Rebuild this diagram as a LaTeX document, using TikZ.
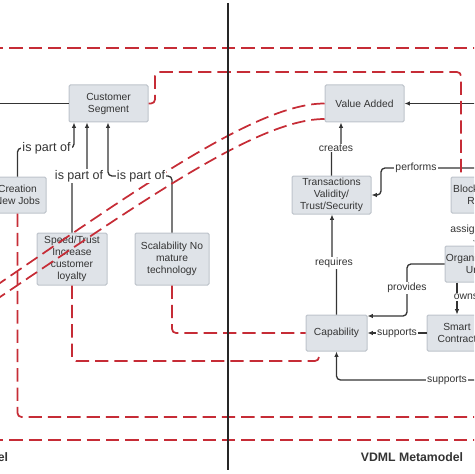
\documentclass[tikz,border=0pt]{standalone}
\usepackage{fontspec}
\setmainfont{Liberation Sans}
\usetikzlibrary{arrows.meta}

\definecolor{boxfill}{RGB}{223,227,232}
\definecolor{boxline}{RGB}{190,196,203}
\definecolor{dashred}{RGB}{198,44,54}
\definecolor{darkline}{RGB}{52,52,52}

\tikzset{every picture/.style={line width=0.75pt}}
\tikzset{
  box/.style={draw=boxline, fill=boxfill, rounded corners=1pt, align=center, inner sep=0pt,
    text=darkline, font=\fontsize{7.7}{9}\selectfont},
  redline/.style={draw=dashred, line width=1.3pt, dash pattern=on 10pt off 4.5pt, rounded corners=3pt},
  conn/.style={draw=darkline, line width=1pt, rounded corners=3pt},
  arr/.style={-{Latex[length=4pt,width=3.4pt]}},
  lbl/.style={fill=white, inner sep=0.8pt, text=darkline, font=\fontsize{7.8}{9}\selectfont},
  biglbl/.style={lbl, font=\fontsize{9.4}{11}\selectfont},
  title/.style={text=darkline, font=\fontsize{9.2}{11}\selectfont\bfseries}
}

\begin{document}
\begin{tikzpicture}[x=0.75pt,y=0.75pt,yscale=-1,xscale=1]
\useasboundingbox (0,0) rectangle (474,474);
\clip (0,0) rectangle (474,474);

% Boxes
\node[box, minimum width=59.25pt, minimum height=27.75pt] (cust) at (108.5,103.5) {Customer\\Segment};
\node[box, minimum width=59.25pt, minimum height=27.75pt] (va) at (364.5,103.5) {Value Added};
\node[box, minimum width=42.75pt, minimum height=27pt] (cre) at (17.5,195) {Creation\\New Jobs};
\node[box, minimum width=52.5pt, minimum height=39pt] (speed) at (72,259) {Speed/Trust\\Increase\\customer\\loyalty};
\node[box, minimum width=55.5pt, minimum height=39pt] (scal) at (172,259) {Scalability No\\mature\\technology};
\node[box, minimum width=59.25pt, minimum height=28.5pt] (trans) at (331.5,195) {Transactions\\Validity/\\Trust/Security};
\node[box, minimum width=45.75pt, minimum height=27pt] (cap) at (336.5,333) {Capability};
\node[box, minimum width=40.5pt, minimum height=27pt] (block) at (478,195) {Blockchain\\Role};
\node[box, minimum width=45pt, minimum height=27pt] (org) at (475,264) {Organization\\Unit};
\node[box, minimum width=45pt, minimum height=27pt] (smart) at (457,333) {Smart\\Contract};

% free ends
\coordinate (custin) at (-10,103.5);
\coordinate (vain) at (490,103.5);
\coordinate (perf) at (490,168);
\coordinate (sup) at (490,380);

%Straight Lines left
\draw[conn] (custin) -- (cust.west);
\draw[conn,arr] (cre.north) |- (74,148) -- (cust.south -| 74,0);
\draw[conn,arr] (speed.north) |- (87,176) -- (cust.south -| 87,0);
\draw[conn,arr] (scal.north) |- (108,176) -- (cust.south -| 108,0);

%Straight Lines right
\draw[conn,arr] (vain) -- (va.east);
\draw[conn,arr] (trans.north) |- (341,148) -- (va.south -| 341,0);
\draw[conn,arr] (perf) -| (381,195) -- (trans.east);
\draw[conn,arr] (cap.north) |- (332,263) -- (trans.south -| 332,0);
\draw[conn,arr] (org.west) -| (407,316) -- (cap.east |- 0,316);
\draw[conn,arr] (smart.west) -- (cap.east);
\draw[conn,arr] (sup) -| (cap.south);
\draw[conn,arr] (org.south -| smart.north) -- (smart.north);
\draw[conn,arr] (block.south) -- (org.north);

%Dashed red lines
\draw[redline] (-10,48) -- (490,48);
\draw[redline] (-10,440) -- (490,440);
\draw[redline] (cust.east) -| (155,72) -- (461,72) -- (block.north -| 461,0);
\draw[redline] (cre.south) |- (490,417);
\draw[redline] (speed.south) |- (319,361) -- (cap.south -| 319,0);
\draw[redline] (scal.south) |- (cap.west);
\draw[redline, rounded corners=0pt] (va.west) .. controls (260,103.5) and (150,180) .. (0,283) -- (-20,297);
\draw[redline, rounded corners=0pt] (va.west |- 0,119) .. controls (260,119) and (150,196) .. (0,297) -- (-20,311);

% divider
\draw[line width=1pt, black!85] (228,3) -- (228,470);

% Text Node
\node[biglbl] (lp1) at (46.5,148) {is part of};
\node[biglbl] (lp2) at (79,176) {is part of};
\node[biglbl] (lp3) at (141,176) {is part of};
\node[lbl] (lcre) at (336,148) {creates};
\node[lbl] (lperf) at (416,168) {performs};
\node[lbl] (lreq) at (334,263) {requires};
\node[lbl] (lprov) at (407,288) {provides};
\node[lbl] (lsup1) at (397,333) {supports};
\node[lbl] (lsup2) at (447,380) {supports};
\node[lbl] (lown) at (466,297) {owns};
\node[lbl] (lasg) at (477,229.5) {assigned to};
\node[title] (tvdml) at (412,457) {VDML Metamodel};
\node[title, anchor=east] (tbm) at (13,457) {Business Model};

\end{tikzpicture}
\end{document}
